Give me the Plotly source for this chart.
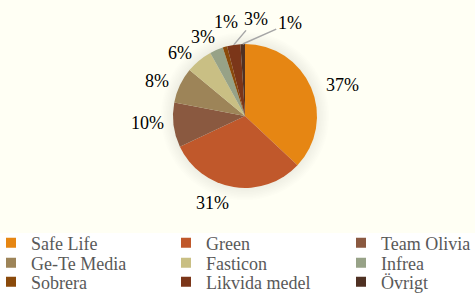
import math
import plotly.graph_objects as go

categories = ["Safe Life", "Green", "Team Olivia", "Ge-Te Media", "Fasticon",
              "Infrea", "Sobrera", "Likvida medel", "Övrigt"]
values = [37, 31, 10, 8, 6, 3, 1, 3, 1]
colors = ["#E68613", "#C0582B", "#8A5940", "#9D8458", "#C9BF84",
          "#97A287", "#8A4A0B", "#7B3619", "#4F3123"]

# label placement (pixel offsets of each percentage label from its slice's edge)
label_dx = [31, -21, -26, -23, -19, -13, 1, 22, 47]
label_dy = [-2, 16, -2, -4, -8, -13, -25, -26, -21]
label_line = [False, False, False, False, False, False, False, True, True]

W, H = 475, 293
cx, cy, r = 245, 116, 72
FONT = "Liberation Serif"
dom_x = [(cx - r) / W, (cx + r) / W]
dom_y = [1 - (cy + r) / H, 1 - (cy - r) / H]

fig = go.Figure()

shapes = []
for k in range(8):
    rr = r + 1.5 * (k + 1)
    shapes.append(dict(type="circle", xref="paper", yref="paper", layer="below",
                       x0=(cx - rr) / W, x1=(cx + rr) / W,
                       y0=1 - (cy + rr) / H, y1=1 - (cy - rr) / H,
                       fillcolor="rgba(120,120,100,0.014)", line=dict(width=0)))
shapes.append(dict(type="rect", xref="paper", yref="paper", layer="below",
                   x0=0, x1=1, y0=0, y1=1 - 233 / H,
                   fillcolor="#FFFFFF", line=dict(width=0)))

fig.add_trace(go.Pie(
    labels=categories, values=values, sort=False, direction="clockwise",
    rotation=0, marker=dict(colors=colors, line=dict(width=0)),
    textinfo="none", showlegend=False,
    domain=dict(x=dom_x, y=dom_y), hoverinfo="label+percent",
))

total = sum(values)
annotations = []
cum = 0
for i, v in enumerate(values):
    mid = (cum + v / 2) / total * 2 * math.pi
    cum += v
    ex = cx + r * math.sin(mid)
    ey = cy - r * math.cos(mid)
    annotations.append(dict(
        x=ex / W, y=1 - ey / H, xref="paper", yref="paper",
        text=f"{round(v / total * 100)}%", showarrow=True,
        ax=label_dx[i], ay=label_dy[i], axref="pixel", ayref="pixel",
        arrowhead=0, arrowwidth=1.5,
        arrowcolor="#A6A6A6" if label_line[i] else "rgba(0,0,0,0)",
        font=dict(family=FONT, size=18, color="#000000"),
    ))

col_text_x = [31, 206, 381]
row_center_y = [243, 263, 282]
legends = {}
for i, (name, c) in enumerate(zip(categories, colors)):
    key = "legend" if i == 0 else f"legend{i + 1}"
    fig.add_trace(go.Scatter(
        x=[None], y=[None], mode="markers", name=name, legend=key,
        marker=dict(symbol="square", size=10, color=c), showlegend=True,
        hoverinfo="skip",
    ))
    col, row = i % 3, i // 3
    legends[key] = dict(
        x=(col_text_x[col] - 40) / W, y=1 - row_center_y[row] / H,
        xanchor="left", yanchor="middle", orientation="v",
        font=dict(family=FONT, size=18, color="#595959"),
        bgcolor="rgba(0,0,0,0)", borderwidth=0,
    )

fig.update_layout(
    width=W, height=H,
    margin=dict(l=0, r=0, t=0, b=0, autoexpand=False),
    paper_bgcolor="#FFFFF4", plot_bgcolor="rgba(0,0,0,0)",
    xaxis=dict(visible=False), yaxis=dict(visible=False),
    shapes=shapes, annotations=annotations,
    **legends,
)
fig.write_html("out.html", config={"displayModeBar": False},
               post_script="document.body.style.margin='0px';")
